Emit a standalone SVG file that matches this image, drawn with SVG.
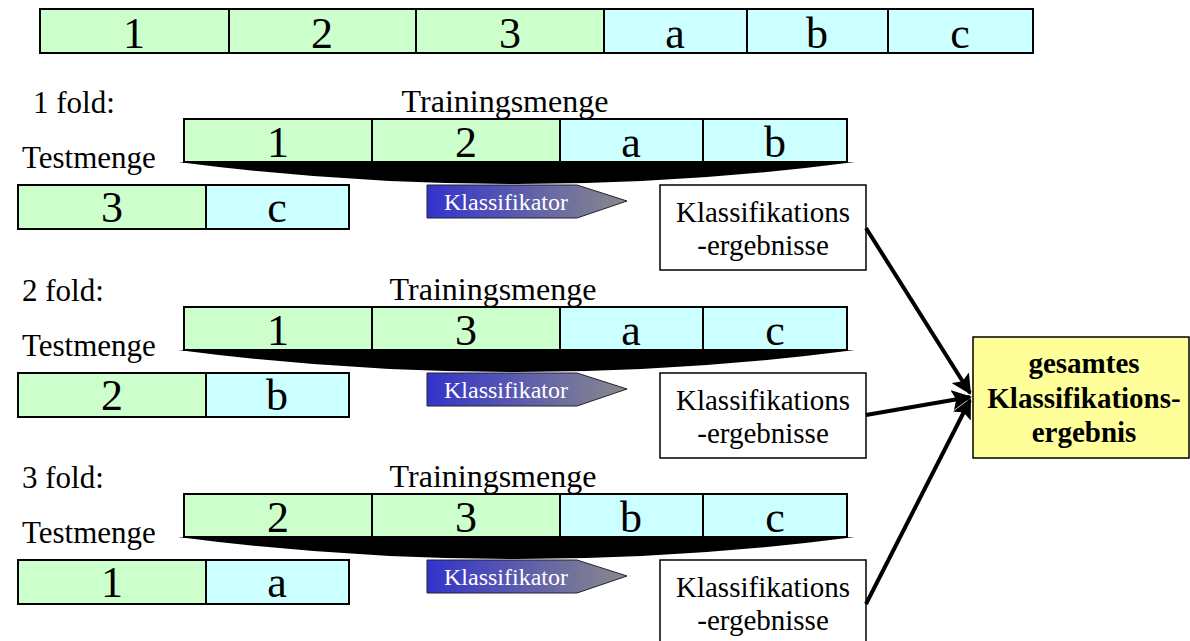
<svg xmlns="http://www.w3.org/2000/svg" width="1190" height="641" viewBox="0 0 1190 641">
<defs>
<linearGradient id="kg" x1="0" y1="0" x2="1" y2="0">
<stop offset="0" stop-color="#3333cc"/>
<stop offset="1" stop-color="#8a8a8a"/>
</linearGradient>
<marker id="ah" viewBox="0 0 10 10" refX="9" refY="5" markerWidth="5" markerHeight="5" orient="auto" markerUnits="strokeWidth">
<path d="M0,0 L10,5 L0,10 L2,5 z" fill="#000"/>
</marker>
</defs>
<style>
.g{fill:#ccffcc;stroke:#000;stroke-width:2}
.c{fill:#ccffff;stroke:#000;stroke-width:2}
.big{font-family:"Liberation Serif",serif;font-size:44px;text-anchor:middle;fill:#000}
.lbl{font-family:"Liberation Serif",serif;font-size:31px;fill:#000}
.tm{font-family:"Liberation Serif",serif;font-size:32px;fill:#000;text-anchor:middle}
.res{font-family:"Liberation Serif",serif;font-size:29px;text-anchor:middle;fill:#000}
.tot{font-family:"Liberation Serif",serif;font-size:29px;font-weight:bold;text-anchor:middle;fill:#000}
.kl{font-family:"Liberation Serif",serif;font-size:24px;text-anchor:middle;fill:#fff}
.box{fill:#fff;stroke:#000;stroke-width:1.5}
.conn{stroke:#000;stroke-width:4;fill:none}
</style>
<rect width="1190" height="641" fill="#fff"/>
<g id="top">
<rect class="g" x="40" y="9" width="189" height="44"/>
<rect class="g" x="229" y="9" width="187" height="44"/>
<rect class="g" x="416" y="9" width="188" height="44"/>
<rect class="c" x="604" y="9" width="143" height="44"/>
<rect class="c" x="747" y="9" width="141" height="44"/>
<rect class="c" x="888" y="9" width="145" height="44"/>
<text class="big" x="134" y="48">1</text>
<text class="big" x="322" y="48">2</text>
<text class="big" x="510" y="48">3</text>
<text class="big" x="675" y="48">a</text>
<text class="big" x="817" y="48">b</text>
<text class="big" x="960" y="48">c</text>
</g>
<g id="fold1">
<text class="lbl" x="33" y="113">1 fold:</text>
<text class="tm" x="505" y="112">Trainingsmenge</text>
<text class="lbl" x="22" y="168">Testmenge</text>
<path d="M178,162 L855,162 Q516,206 178,162 Z" fill="#000"/>
<rect class="g" x="184" y="119" width="188" height="43"/>
<rect class="g" x="372" y="119" width="188" height="43"/>
<rect class="c" x="560" y="119" width="143" height="43"/>
<rect class="c" x="703" y="119" width="144" height="43"/>
<text class="big" x="278" y="157">1</text>
<text class="big" x="466" y="157">2</text>
<text class="big" x="631" y="157">a</text>
<text class="big" x="775" y="157">b</text>
<rect class="g" x="18" y="185" width="188" height="44"/>
<rect class="c" x="206" y="185" width="143" height="44"/>
<text class="big" x="112" y="222">3</text>
<text class="big" x="277" y="222">c</text>
<polygon points="427,185 577,185 627,201 577,218 427,218" fill="url(#kg)" stroke="#223" stroke-width="1"/>
<text class="kl" x="506" y="210">Klassifikator</text>
<rect class="box" x="660" y="185" width="206" height="85"/>
<text class="res" x="763" y="222">Klassifikations</text>
<text class="res" x="763" y="255">-ergebnisse</text>
</g>
<g id="fold2">
<text class="lbl" x="22" y="301">2 fold:</text>
<text class="tm" x="493" y="300">Trainingsmenge</text>
<text class="lbl" x="22" y="356">Testmenge</text>
<path d="M178,350 L855,350 Q516,394 178,350 Z" fill="#000"/>
<rect class="g" x="184" y="307" width="188" height="43"/>
<rect class="g" x="372" y="307" width="188" height="43"/>
<rect class="c" x="560" y="307" width="143" height="43"/>
<rect class="c" x="703" y="307" width="144" height="43"/>
<text class="big" x="278" y="345">1</text>
<text class="big" x="466" y="345">3</text>
<text class="big" x="631" y="345">a</text>
<text class="big" x="775" y="345">c</text>
<rect class="g" x="18" y="373" width="188" height="44"/>
<rect class="c" x="206" y="373" width="143" height="44"/>
<text class="big" x="112" y="410">2</text>
<text class="big" x="277" y="410">b</text>
<polygon points="427,373 577,373 627,389 577,406 427,406" fill="url(#kg)" stroke="#223" stroke-width="1"/>
<text class="kl" x="506" y="398">Klassifikator</text>
<rect class="box" x="660" y="373" width="206" height="85"/>
<text class="res" x="763" y="410">Klassifikations</text>
<text class="res" x="763" y="443">-ergebnisse</text>
</g>
<g id="fold3">
<text class="lbl" x="22" y="488">3 fold:</text>
<text class="tm" x="493" y="487">Trainingsmenge</text>
<text class="lbl" x="22" y="543">Testmenge</text>
<path d="M178,537 L855,537 Q516,581 178,537 Z" fill="#000"/>
<rect class="g" x="184" y="494" width="188" height="43"/>
<rect class="g" x="372" y="494" width="188" height="43"/>
<rect class="c" x="560" y="494" width="143" height="43"/>
<rect class="c" x="703" y="494" width="144" height="43"/>
<text class="big" x="278" y="532">2</text>
<text class="big" x="466" y="532">3</text>
<text class="big" x="631" y="532">b</text>
<text class="big" x="775" y="532">c</text>
<rect class="g" x="18" y="560" width="188" height="44"/>
<rect class="c" x="206" y="560" width="143" height="44"/>
<text class="big" x="112" y="597">1</text>
<text class="big" x="277" y="597">a</text>
<polygon points="427,560 577,560 627,576 577,593 427,593" fill="url(#kg)" stroke="#223" stroke-width="1"/>
<text class="kl" x="506" y="585">Klassifikator</text>
<rect class="box" x="660" y="560" width="206" height="85"/>
<text class="res" x="763" y="597">Klassifikations</text>
<text class="res" x="763" y="630">-ergebnisse</text>
</g>
<g id="total">
<rect x="973" y="337" width="216" height="121" fill="#ffff99" stroke="#000" stroke-width="1.5"/>
<text class="tot" x="1084" y="373">gesamtes</text>
<text class="tot" x="1084" y="408">Klassifikations-</text>
<text class="tot" x="1084" y="442">ergebnis</text>
</g>
<g id="connectors">
<line class="conn" x1="866" y1="228" x2="970" y2="393" marker-end="url(#ah)"/>
<line class="conn" x1="866" y1="415" x2="970" y2="397" marker-end="url(#ah)"/>
<line class="conn" x1="866" y1="604" x2="970" y2="400" marker-end="url(#ah)"/>
</g>
</svg>
